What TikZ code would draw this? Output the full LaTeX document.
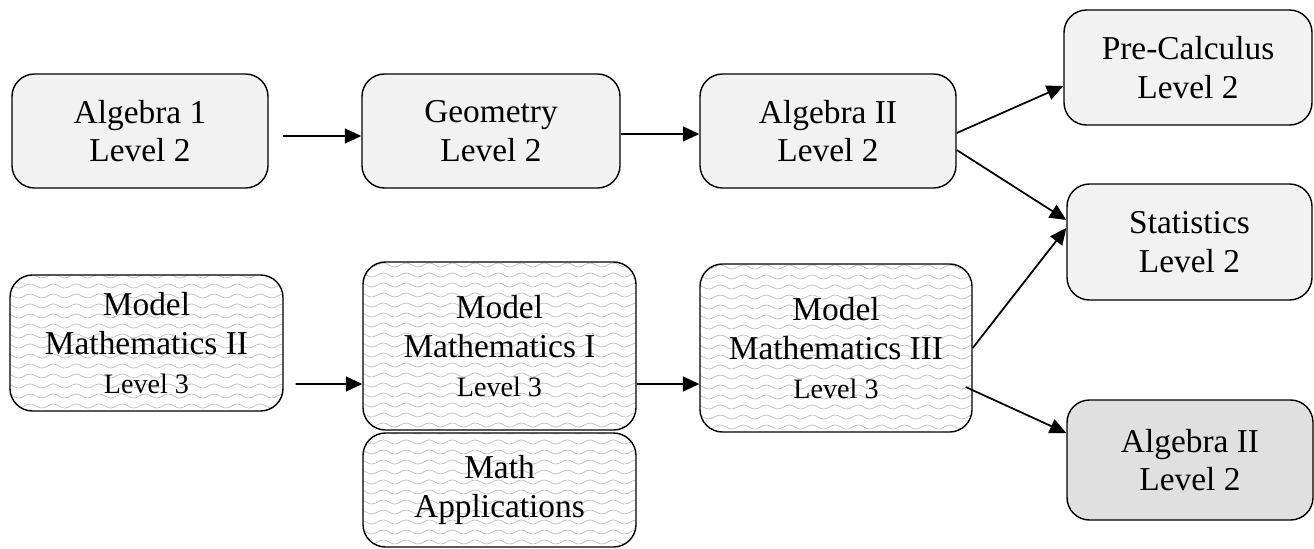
\documentclass[tikz,border=0pt]{standalone}
\usepackage{fontspec}
\setmainfont{Liberation Serif}
\usetikzlibrary{arrows.meta,decorations.pathmorphing}
\newcommand\lvlfont{\fontsize{16}{19}\selectfont}
\tikzset{
  course/.style={draw=black, line width=0.8pt, rounded corners=0.45cm, align=center,
    inner sep=0pt, font=\fontsize{19}{22}\selectfont},
  plainbox/.style={course, fill=black!5},
  darkbox/.style={course, fill=black!12},
  wavyline/.style={draw=black!22, line width=0.45pt, sharp corners, decorate,
    decoration={snake, segment length=0.46cm, amplitude=0.04cm}},
  wavybox/.style={course, fill=white, path picture={
    \foreach \k in {0,1,...,18}
      \draw[wavyline] ([shift={(-0.2,\k*0.2+0.1)}]path picture bounding box.south west)
        -- ([shift={(0.2,\k*0.2+0.1)}]path picture bounding box.south east);}},
  link/.style={line width=1pt, -{Triangle[length=0.33cm, width=0.3cm]}}
}
\begin{document}
\begin{tikzpicture}
	\useasboundingbox (0,0) rectangle (26.28,10.96);

	% upper track
	\node[plainbox, minimum width=5.12cm, minimum height=2.28cm] (alg1) at (2.8,8.34) {Algebra 1\\Level 2};
	\node[plainbox, minimum width=5.16cm, minimum height=2.28cm] (geom) at (9.82,8.34) {Geometry\\Level 2};
	\node[plainbox, minimum width=5.12cm, minimum height=2.28cm] (alg2) at (16.56,8.34) {Algebra II\\Level 2};
	\node[plainbox, minimum width=4.96cm, minimum height=2.3cm] (precalc) at (23.76,9.61) {Pre-Calculus\\Level 2};
	\node[plainbox, minimum width=4.9cm, minimum height=2.32cm] (stats) at (23.79,6.12) {Statistics\\Level 2};

	% lower track
	\node[wavybox, minimum width=5.46cm, minimum height=2.72cm] (mm2) at (2.93,4.1) {Model\\Mathematics II\\\lvlfont Level 3};
	\node[wavybox, minimum width=5.46cm, minimum height=3.36cm] (mm1) at (9.99,4.04) {Model\\Mathematics I\\\lvlfont Level 3};
	\node[wavybox, minimum width=5.46cm, minimum height=2.28cm] (mathapp) at (9.99,1.16) {Math\\Applications};
	\node[wavybox, minimum width=5.44cm, minimum height=3.36cm] (mm3) at (16.72,4.0) {Model\\Mathematics III\\\lvlfont Level 3};
	\node[darkbox, minimum width=4.92cm, minimum height=2.4cm] (alg2b) at (23.8,1.76) {Algebra II\\Level 2};

	\draw[link] ([shift={(0.28,-0.1)}]alg1.east) -- ([yshift=-0.1cm]geom.west);
	\draw[link] ([yshift=-0.06cm]geom.east) -- ([yshift=-0.06cm]alg2.west);
	\draw[link] ([yshift=-0.04cm]alg2.east) -- ([yshift=-0.37cm]precalc.west);
	\draw[link] ([yshift=-0.38cm]alg2.east) -- ([yshift=0.44cm]stats.west);
	\draw[link] (mm3.east) -- ([yshift=0.28cm]stats.west);
	\draw[link] ([shift={(-0.14,-0.78)}]mm3.east) -- ([yshift=0.54cm]alg2b.west);
	\draw[link] ([shift={(0.24,-0.82)}]mm2.east) -- ([yshift=-0.76cm]mm1.west);
	\draw[link] ([yshift=-0.76cm]mm1.east) -- ([yshift=-0.72cm]mm3.west);
\end{tikzpicture}
\end{document}
